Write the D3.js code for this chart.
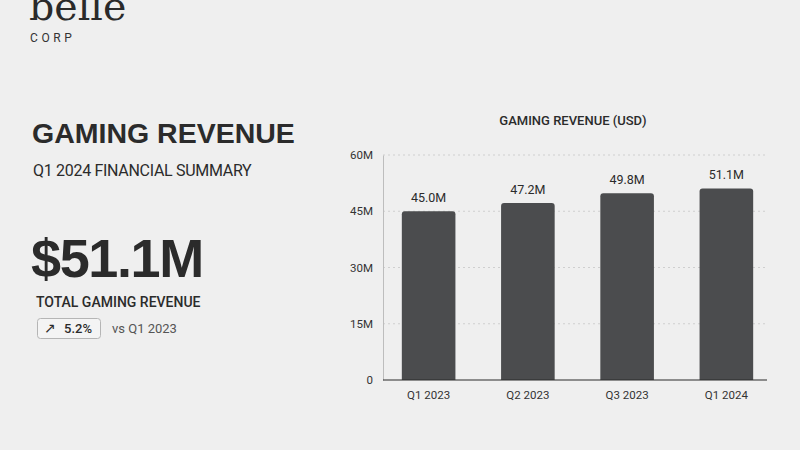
<!DOCTYPE html>
<html><head><meta charset="utf-8">
<script src="https://cdn.jsdelivr.net/npm/d3@7"></script>
<style>
html,body{margin:0;padding:0;background:#efefef;}
svg{display:block;font-family:Roboto,"Liberation Sans",sans-serif;}
</style></head>
<body>
<svg id="c" width="800" height="450"></svg>
<script>
const categories = ["Q1 2023","Q2 2023","Q3 2023","Q1 2024"];
const revenue = [45.0, 47.2, 49.8, 51.1];
const valueLabels = ["45.0M","47.2M","49.8M","51.1M"];
const yTicks = [0, 15, 30, 45, 60];
const yTickLabels = ["0","15M","30M","45M","60M"];

const svg = d3.select("#c");
svg.append("rect").attr("width",800).attr("height",450).attr("fill","#efefef");

// Left panel
svg.append("text").attr("x",29).attr("y",20).attr("font-family","'DejaVu Serif','Liberation Serif',serif")
  .attr("font-size",39.5).attr("fill","#2a2a2a").text("belle");
svg.append("text").attr("x",30).attr("y",42).attr("font-size",12).attr("letter-spacing",3.6)
  .attr("fill","#333").text("CORP");
svg.append("text").attr("x",32).attr("y",143).attr("font-family","'Liberation Sans',Arial,sans-serif")
  .attr("font-size",28.5).attr("font-weight",700).attr("fill","#2b2b2b").text("GAMING REVENUE");
svg.append("text").attr("x",33).attr("y",176).attr("font-size",16).attr("letter-spacing",-0.3)
  .attr("fill","#2b2b2b").text("Q1 2024 FINANCIAL SUMMARY");
svg.append("text").attr("x",31).attr("y",277).attr("font-family","'Liberation Sans',Arial,sans-serif")
  .attr("font-size",54).attr("font-weight",700).attr("letter-spacing",-1.4).attr("fill","#2b2b2b").text("$51.1M");
svg.append("text").attr("x",36).attr("y",307).attr("font-size",14).attr("font-weight",500)
  .attr("fill","#2b2b2b").text("TOTAL GAMING REVENUE");
svg.append("rect").attr("x",37.5).attr("y",318.5).attr("width",63).attr("height",20).attr("rx",3)
  .attr("fill","#f4f4f4").attr("stroke","#b5b5b5");
svg.append("text").attr("x",44).attr("y",333).attr("font-size",14).attr("fill","#2b2b2b").text("↗");
svg.append("text").attr("x",64).attr("y",333).attr("font-size",13).attr("font-weight",500)
  .attr("fill","#2b2b2b").text("5.2%");
svg.append("text").attr("x",112).attr("y",333).attr("font-size",13).attr("fill","#555").text("vs Q1 2023");

// Chart
const x = d3.scaleBand().domain(categories).range([379,776]).paddingInner(0.46).paddingOuter(0.23);
const y = d3.scaleLinear().domain([0,60]).range([380,155]);
const axL = 383, axR = 767;

svg.append("text").attr("x",573).attr("y",125).attr("text-anchor","middle").attr("font-size",13)
  .attr("font-weight",500).attr("fill","#2b2b2b").text("GAMING REVENUE (USD)");

// grid
svg.selectAll("line.grid").data(yTicks.filter(d=>d>0)).join("line").attr("class","grid")
  .attr("x1",axL).attr("x2",axR).attr("y1",d=>y(d)).attr("y2",d=>y(d))
  .attr("stroke","#cfcfcf").attr("stroke-dasharray","2,3");

// y axis
const yAxis = d3.axisLeft(y).tickValues(yTicks).tickFormat((d,i)=>yTickLabels[i]).tickSize(0).tickPadding(10);
const gy = svg.append("g").attr("transform",`translate(${axL},0)`).call(yAxis);
gy.select(".domain").attr("stroke","#bdbdbd");
gy.selectAll("text").attr("font-size",11.5).attr("fill","#333").attr("font-family","Roboto,'Liberation Sans',sans-serif");

// bars with rounded tops
const r = 3;
svg.selectAll("path.bar").data(revenue).join("path").attr("class","bar")
  .attr("fill","#4b4c4e")
  .attr("d",(d,i)=>{
    const x0 = x(categories[i]), w = x.bandwidth(), yt = y(d), yb = y(0);
    return `M${x0},${yb}V${yt+r}Q${x0},${yt} ${x0+r},${yt}H${x0+w-r}Q${x0+w},${yt} ${x0+w},${yt+r}V${yb}Z`;
  });

svg.selectAll("text.val").data(revenue).join("text").attr("class","val")
  .attr("x",(d,i)=>x(categories[i])+x.bandwidth()/2).attr("y",d=>y(d)-9)
  .attr("text-anchor","middle").attr("font-size",12.5).attr("fill","#2b2b2b")
  .text((d,i)=>valueLabels[i]);

// x axis
const xAxis = d3.axisBottom(x).tickSize(0).tickPadding(11);
const gx = svg.append("g").attr("transform",`translate(0,${y(0)})`).call(xAxis);
gx.select(".domain").remove();
gx.selectAll("text").attr("font-size",11.5).attr("fill","#333").attr("font-family","Roboto,'Liberation Sans',sans-serif");
svg.append("line").attr("x1",axL).attr("x2",axR).attr("y1",y(0)).attr("y2",y(0))
  .attr("stroke","#2b2b2b").attr("stroke-width",1.2);
</script>
</body></html>
